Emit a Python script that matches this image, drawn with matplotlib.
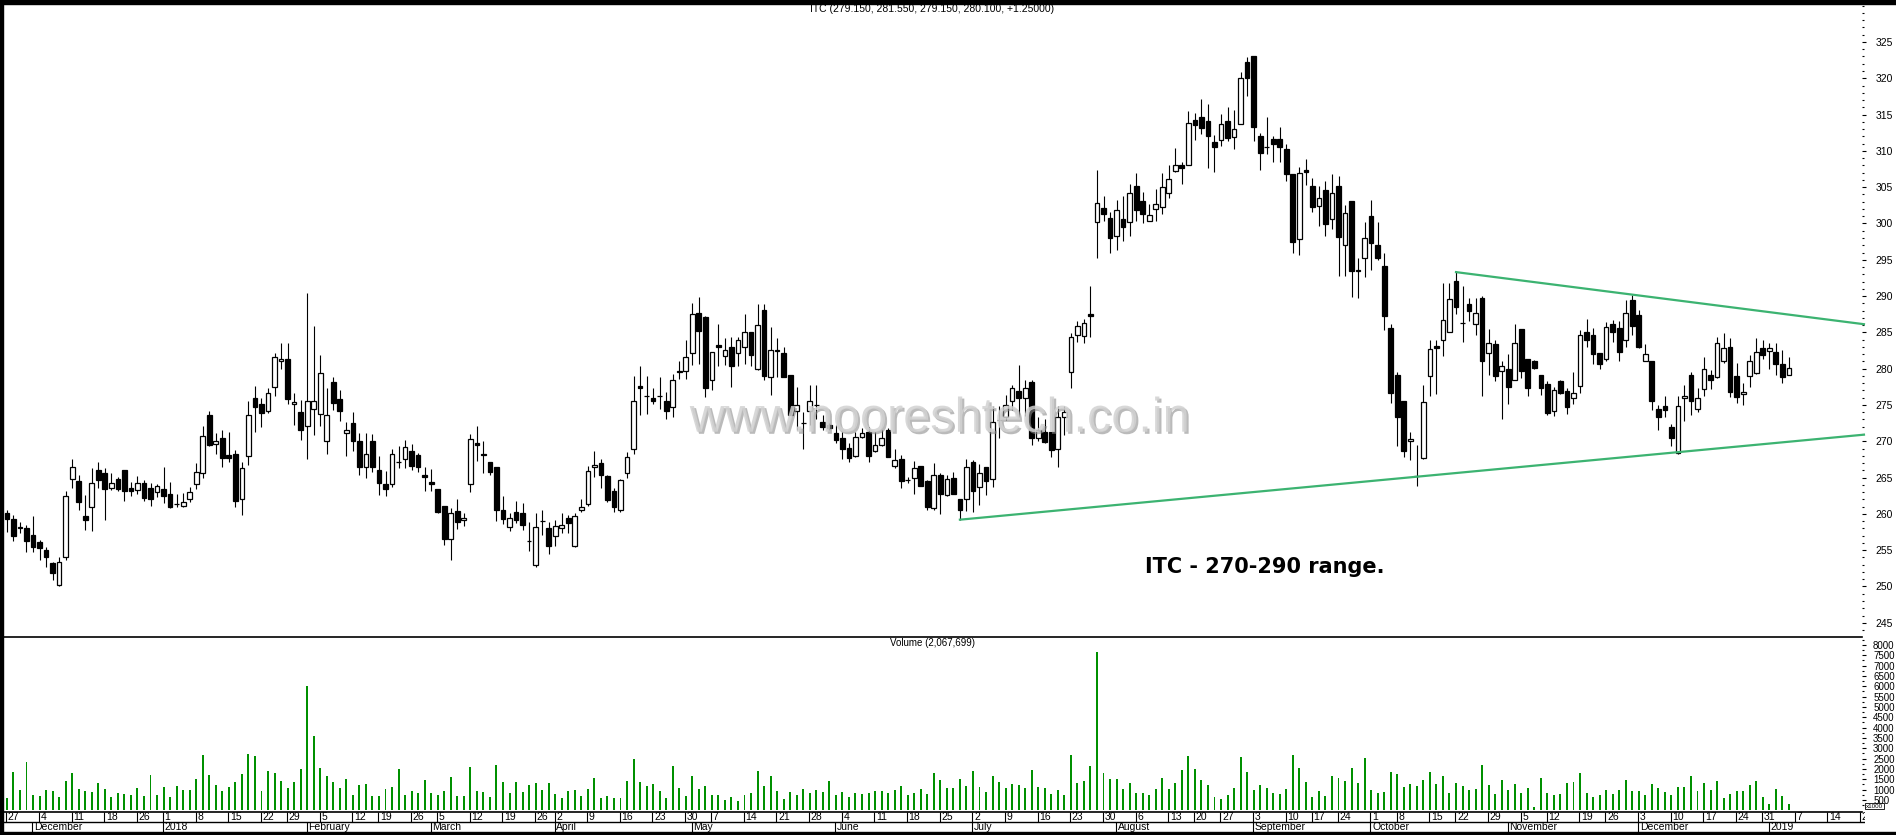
import numpy as np
import matplotlib
matplotlib.use("Agg")
import matplotlib.pyplot as plt
import matplotlib.patheffects as pe
from matplotlib.patches import Rectangle

plt.rcParams["font.family"] = ["Liberation Sans Narrow", "Liberation Sans", "DejaVu Sans"]

# NSE trading holidays in the window (Nov 2017 - Jan 2019)
HOLIDAYS = ["2017-12-25", "2018-01-26", "2018-02-13", "2018-03-02", "2018-03-29",
            "2018-03-30", "2018-05-01", "2018-08-15", "2018-08-22", "2018-09-13",
            "2018-09-20", "2018-10-02", "2018-10-18", "2018-11-08", "2018-11-23",
            "2018-12-25"]
FIRST_DAY = "2017-11-27"
AXIS_END_DAY = "2019-01-26"

# daily ITC candles
OPEN = [260.1, 259.3, 258.2, 258.0, 257.1, 256.1, 255.0, 253.3, 250.2, 254.0,
        264.8, 264.5, 259.7, 261.0, 266.0, 265.6, 263.5, 264.8, 266.0, 263.5,
        263.3, 264.3, 263.5, 263.0, 263.4, 262.7, 261.4, 261.1, 262.0, 264.1,
        265.6, 273.6, 269.6, 270.5, 268.1, 268.3, 262.1, 268.0, 276.0, 275.1,
        274.2, 277.5, 281.1, 281.3, 275.1, 274.0, 272.1, 274.5, 273.7, 270.1,
        278.1, 275.8, 271.1, 272.5, 270.0, 266.5, 270.0, 266.0, 264.1, 264.1,
        267.2, 267.5, 268.6, 268.1, 265.4, 264.4, 263.4, 261.1, 256.6, 260.4,
        259.1, 264.1, 269.7, 268.3, 267.1, 266.4, 260.6, 258.2, 260.2, 260.1,
        256.3, 253.0, 259.0, 258.0, 256.9, 258.1, 259.5, 255.6, 260.6, 261.3,
        266.5, 267.0, 265.2, 263.1, 260.6, 265.6, 268.9, 277.6, 276.3, 276.0,
        276.2, 275.6, 274.7, 279.7, 279.7, 282.2, 287.6, 287.1, 278.4, 283.3,
        281.7, 283.0, 282.2, 283.0, 285.0, 280.0, 288.1, 278.8, 282.6, 282.1,
        279.1, 274.2, 272.5, 274.2, 275.0, 272.6, 272.2, 271.2, 270.5, 269.1,
        268.0, 270.6, 271.3, 268.6, 269.5, 271.6, 266.6, 267.6, 264.7, 265.0,
        266.6, 264.5, 260.8, 265.4, 262.6, 264.9, 262.0, 262.0, 267.1, 263.7,
        266.5, 264.8, 272.9, 273.4, 275.6, 276.9, 275.9, 278.2, 270.4, 271.3,
        271.3, 269.0, 273.4, 279.6, 284.6, 284.5, 287.5, 300.2, 302.1, 300.8,
        298.3, 300.6, 300.2, 305.2, 303.1, 300.4, 302.0, 302.2, 304.2, 307.2,
        308.1, 308.1, 314.3, 314.6, 314.1, 311.2, 311.5, 314.1, 311.9, 313.7,
        322.2, 323.1, 312.1, 310.5, 311.6, 311.7, 310.3, 306.8, 297.9, 307.3,
        305.2, 302.4, 304.6, 300.6, 305.2, 297.1, 303.1, 293.6, 295.2, 301.0,
        297.1, 294.1, 285.6, 279.1, 275.5, 270.0, 265.2, 267.7, 279.0, 283.1,
        284.0, 285.1, 292.1, 286.3, 288.9, 286.1, 289.8, 282.1, 283.4, 279.7,
        280.0, 278.4, 285.4, 281.3, 281.0, 279.1, 277.9, 274.2, 278.3, 276.9,
        276.0, 277.6, 285.1, 284.6, 282.1, 281.4, 286.2, 285.6, 283.9, 289.5,
        287.4, 281.1, 281.0, 274.5, 274.9, 272.0, 268.4, 276.0, 279.1, 274.5,
        277.2, 279.1, 278.9, 281.1, 283.0, 279.0, 276.5, 279.0, 279.4, 282.9,
        282.5, 282.3, 280.7, 279.15]
HIGH = [260.6, 259.8, 258.9, 258.4, 259.7, 256.4, 255.4, 253.4, 254.1, 263.2,
        267.6, 265.4, 262.6, 266.3, 267.1, 266.3, 265.6, 265.1, 266.0, 264.4,
        265.2, 264.7, 264.2, 264.1, 266.4, 264.4, 262.8, 262.9, 263.7, 267.0,
        272.1, 274.2, 271.1, 271.5, 271.3, 268.8, 267.1, 275.5, 277.6, 275.9,
        277.3, 282.1, 283.5, 283.5, 276.6, 275.7, 290.4, 285.9, 281.9, 277.4,
        278.8, 277.1, 272.7, 274.0, 271.1, 271.1, 271.0, 268.0, 265.9, 269.0,
        269.3, 270.2, 269.6, 268.4, 266.5, 266.2, 263.4, 261.1, 260.8, 262.0,
        260.1, 271.0, 272.1, 270.0, 267.1, 266.4, 262.4, 260.1, 261.8, 261.5,
        258.9, 260.1, 260.6, 258.9, 259.2, 260.1, 259.8, 260.1, 262.0, 266.6,
        268.7, 267.6, 265.4, 263.6, 264.8, 268.5, 279.0, 280.3, 279.0, 277.3,
        278.9, 276.8, 279.3, 281.1, 283.9, 289.0, 289.9, 287.3, 282.3, 286.2,
        284.2, 284.3, 284.4, 287.5, 285.0, 288.9, 288.9, 285.7, 284.2, 283.0,
        279.1, 277.5, 274.1, 277.7, 277.8, 273.6, 272.5, 272.2, 271.3, 269.7,
        271.3, 271.8, 272.0, 271.3, 271.6, 271.8, 269.0, 268.1, 265.1, 267.3,
        266.6, 264.7, 267.0, 265.6, 265.4, 265.8, 262.0, 267.6, 267.4, 266.9,
        266.5, 274.9, 274.9, 276.4, 277.8, 280.5, 278.4, 278.4, 273.4, 273.0,
        271.3, 274.8, 274.9, 284.9, 286.5, 286.8, 291.4, 307.4, 303.8, 301.6,
        303.2, 303.8, 305.5, 307.0, 304.3, 302.7, 304.7, 307.0, 308.0, 310.4,
        308.5, 315.5, 315.2, 317.2, 316.5, 312.2, 315.1, 316.0, 315.6, 320.8,
        322.9, 323.1, 312.4, 314.6, 312.1, 313.3, 310.9, 306.8, 307.8, 308.9,
        306.2, 305.2, 305.9, 306.8, 306.5, 302.6, 303.1, 295.2, 300.2, 303.2,
        300.2, 295.9, 286.2, 279.5, 275.5, 271.3, 269.5, 277.8, 283.9, 283.9,
        291.8, 291.8, 293.4, 291.4, 289.8, 289.7, 290.0, 285.4, 283.9, 281.0,
        282.0, 286.2, 285.4, 281.3, 281.2, 279.1, 278.3, 277.5, 278.5, 277.3,
        279.6, 285.3, 286.8, 285.6, 282.1, 286.4, 286.7, 286.5, 289.5, 290.2,
        288.1, 283.4, 281.0, 275.0, 276.3, 272.4, 276.2, 277.8, 279.6, 277.3,
        281.6, 279.8, 284.3, 284.9, 284.2, 280.8, 278.0, 281.9, 284.2, 283.9,
        283.5, 283.5, 282.6, 281.55]
LOW = [257.5, 256.2, 257.3, 254.8, 254.8, 253.7, 252.7, 250.9, 250.1, 253.7,
       263.5, 260.5, 257.8, 257.7, 263.5, 259.2, 263.3, 263.1, 261.8, 262.4,
       262.7, 261.8, 261.1, 262.3, 261.5, 260.8, 260.9, 260.9, 261.7, 263.4,
       265.0, 269.3, 268.3, 266.4, 267.2, 261.0, 259.8, 266.8, 271.3, 271.9,
       273.9, 276.3, 280.0, 275.2, 272.2, 270.2, 267.6, 270.9, 272.1, 268.2,
       274.3, 272.8, 268.0, 268.6, 265.3, 265.0, 265.8, 262.6, 262.4, 263.7,
       266.3, 266.3, 266.0, 265.7, 263.2, 263.1, 260.1, 255.7, 253.6, 257.9,
       258.3, 263.0, 267.3, 265.6, 265.4, 259.0, 258.6, 257.7, 258.7, 257.8,
       254.9, 252.7, 257.1, 254.5, 255.6, 257.3, 257.3, 255.5, 260.3, 261.1,
       265.1, 263.5, 261.7, 260.2, 260.2, 264.9, 268.2, 273.6, 273.8, 275.1,
       274.5, 273.0, 273.3, 278.6, 278.6, 280.5, 280.7, 276.1, 277.1, 280.3,
       280.5, 277.5, 280.3, 280.7, 280.3, 279.8, 278.4, 276.4, 278.9, 278.9,
       273.6, 271.6, 269.0, 272.2, 273.0, 271.5, 271.5, 269.7, 267.6, 267.1,
       267.9, 270.4, 267.1, 268.5, 269.3, 267.9, 266.3, 263.5, 264.2, 262.8,
       263.9, 260.5, 260.5, 260.0, 262.5, 262.7, 259.2, 260.4, 260.3, 261.2,
       262.6, 263.7, 270.4, 272.9, 274.3, 273.4, 273.5, 269.5, 270.0, 269.7,
       267.9, 266.4, 270.9, 277.4, 283.7, 283.5, 284.4, 295.3, 300.3, 295.9,
       296.4, 297.6, 298.3, 300.3, 300.0, 300.3, 300.3, 301.3, 303.5, 307.1,
       305.4, 308.1, 311.5, 312.3, 307.6, 307.1, 310.7, 311.3, 310.3, 313.7,
       317.5, 311.3, 307.3, 309.5, 308.4, 308.4, 305.8, 295.9, 295.7, 305.3,
       301.6, 299.6, 298.3, 299.3, 292.7, 292.7, 289.9, 289.8, 292.6, 293.6,
       295.0, 285.3, 275.3, 269.4, 267.9, 267.4, 263.9, 267.5, 276.2, 276.5,
       281.7, 285.0, 287.5, 283.7, 286.5, 284.7, 276.3, 279.1, 278.3, 273.0,
       275.1, 278.4, 278.7, 276.3, 280.0, 276.4, 273.6, 273.5, 276.5, 273.7,
       275.2, 276.7, 283.0, 280.6, 279.9, 281.1, 283.7, 281.1, 283.0, 284.6,
       282.8, 281.0, 274.3, 271.6, 273.3, 269.4, 268.3, 272.8, 273.6, 274.1,
       276.2, 277.2, 278.7, 280.8, 276.1, 275.3, 275.0, 277.5, 279.3, 281.4,
       280.0, 279.1, 278.0, 279.15]
CLOSE = [259.3, 257.0, 258.1, 256.2, 255.4, 255.3, 254.0, 251.8, 253.4, 262.4,
         266.4, 261.7, 259.1, 264.3, 264.7, 263.4, 264.3, 263.4, 263.2, 263.2,
         264.3, 262.2, 262.0, 263.9, 262.4, 260.9, 261.4, 261.6, 263.0, 265.7,
         270.7, 269.5, 270.0, 267.7, 267.7, 261.8, 266.3, 273.6, 274.7, 273.9,
         276.7, 281.6, 281.4, 275.8, 275.4, 271.5, 275.5, 275.5, 279.4, 273.6,
         275.3, 274.2, 271.6, 270.0, 266.5, 268.3, 266.5, 264.2, 263.4, 268.3,
         267.2, 269.2, 266.6, 266.5, 265.1, 264.1, 260.3, 256.6, 260.1, 258.9,
         259.4, 270.3, 269.5, 268.1, 265.7, 260.5, 259.3, 259.4, 259.2, 258.4,
         256.3, 258.2, 259.0, 255.6, 258.3, 258.5, 258.7, 259.7, 261.0, 265.9,
         266.8, 265.3, 261.9, 260.9, 264.6, 267.8, 275.5, 277.4, 276.3, 275.6,
         276.2, 274.2, 278.4, 279.5, 281.6, 287.5, 285.2, 277.3, 282.3, 283.0,
         282.6, 280.3, 283.9, 285.0, 281.9, 286.0, 279.0, 282.6, 282.5, 278.9,
         273.6, 275.0, 272.5, 275.5, 275.0, 271.9, 271.8, 270.2, 269.0, 267.7,
         270.6, 271.2, 268.0, 269.5, 270.5, 267.9, 267.4, 264.5, 264.7, 266.3,
         263.9, 261.0, 265.4, 262.7, 264.8, 262.8, 260.6, 266.4, 263.2, 265.6,
         264.5, 272.7, 272.9, 275.0, 277.3, 275.9, 277.4, 270.5, 271.5, 269.9,
         268.8, 273.4, 274.1, 284.3, 285.9, 286.3, 287.3, 302.8, 301.3, 298.0,
         301.8, 299.5, 304.2, 301.9, 301.3, 301.2, 302.7, 305.0, 306.1, 308.1,
         307.6, 313.9, 313.5, 313.1, 312.1, 310.6, 313.7, 311.8, 313.0, 320.1,
         320.1, 313.3, 309.7, 310.5, 311.0, 310.6, 306.8, 297.4, 307.0, 307.1,
         302.2, 303.5, 299.9, 304.2, 298.1, 301.4, 293.4, 293.5, 298.0, 297.3,
         295.3, 287.3, 276.7, 273.4, 268.7, 270.3, 265.2, 275.4, 282.7, 282.8,
         286.7, 289.6, 288.5, 286.3, 287.9, 287.6, 281.0, 283.6, 279.0, 280.3,
         277.5, 283.5, 279.7, 277.4, 280.1, 277.4, 273.9, 277.1, 276.6, 274.7,
         276.7, 284.6, 284.0, 282.0, 280.7, 285.8, 285.0, 282.3, 287.6, 285.9,
         283.0, 282.0, 275.5, 273.3, 274.3, 270.5, 274.8, 276.2, 275.5, 275.9,
         280.0, 278.4, 283.6, 282.8, 276.8, 276.1, 276.8, 281.0, 282.3, 281.9,
         282.9, 280.7, 278.9, 280.1]
# volume, in the chart's x1000 units
VOLUME = [574, 1838, 969, 2311, 732, 700, 969, 921, 637, 1411,
          1790, 1032, 921, 890, 1316, 1032, 637, 811, 779, 732,
          1063, 684, 1695, 732, 1111, 621, 1174, 1000, 969, 1506,
          2690, 1727, 1206, 921, 1127, 1364, 1743, 2738, 2643, 937,
          1885, 1822, 1395, 1063, 1364, 1980, 6022, 3603, 2059, 1680,
          1364, 1079, 1490, 732, 1221, 1269, 684, 684, 1032, 1127,
          1980, 716, 937, 826, 1443, 858, 747, 937, 1616, 700,
          700, 2075, 937, 874, 637, 2185, 1364, 842, 1364, 890,
          1206, 1316, 969, 1316, 779, 605, 937, 969, 684, 1016,
          1537, 605, 684, 574, 605, 1411, 2470, 1348, 1159, 1269,
          937, 574, 2122, 1063, 700, 1680, 1032, 1174, 747, 716,
          495, 653, 463, 732, 842, 1885, 1159, 1632, 937, 558,
          874, 732, 1016, 811, 985, 874, 1411, 747, 890, 653,
          842, 779, 811, 921, 937, 858, 1000, 1159, 716, 811,
          1048, 779, 1790, 1474, 1095, 1063, 1521, 1174, 1885, 1127,
          890, 1632, 1364, 1079, 1253, 1221, 1079, 1964, 1111, 1079,
          795, 969, 732, 2690, 1316, 1395, 2154, 7647, 1790, 1521,
          1521, 1048, 1316, 842, 811, 732, 1032, 1569, 1048, 1316,
          1948, 2627, 2012, 1443, 1206, 637, 558, 732, 1095, 2580,
          1853, 969, 1206, 1095, 842, 779, 1048, 2675, 2027, 1364,
          653, 921, 684, 1680, 1553, 1395, 2059, 1316, 2549, 1000,
          858, 890, 1838, 1759, 1127, 1253, 1174, 1474, 1869, 1269,
          1632, 858, 1316, 1159, 969, 1048, 2201, 1221, 779, 1443,
          1000, 1253, 811, 1079, 161, 1569, 811, 732, 764, 1316,
          1364, 1790, 842, 621, 732, 969, 779, 969, 1443, 937,
          937, 732, 1253, 1063, 874, 732, 1127, 1127, 1680, 937,
          1316, 969, 1395, 574, 779, 937, 937, 1237, 1395, 653,
          305, 1048, 684, 305]

# trendline anchors: (candle index, price)
UPPER_TL_IDX = [222, 249]
UPPER_TL_PRICE = [293.3, 290.2]
LOWER_TL_IDX = [146, 256]
LOWER_TL_PRICE = [259.2, 268.5]

TITLE = "ITC (279.150, 281.550, 279.150, 280.100, +1.25000)"
VOL_TITLE = "Volume (2,067,699)"
NOTE = "ITC - 270-290 range."
WATERMARK = "www.nooreshtech.co.in"
MONTHS = ["January", "February", "March", "April", "May", "June", "July",
          "August", "September", "October", "November", "December"]

# ---- trading calendar
all_days = np.arange(FIRST_DAY, AXIS_END_DAY, dtype="datetime64[D]")
days = all_days[np.is_busday(all_days, holidays=HOLIDAYS)]
day_num = days.astype(int)
week_key = day_num - (day_num + 3) % 7
week_start = np.r_[True, week_key[1:] != week_key[:-1]]
month_key = days.astype("datetime64[M]")
month_start = np.r_[True, month_key[1:] != month_key[:-1]]
month_start[0] = False  # Nov 2017 not labelled

o, h, l, c = (np.array(v) for v in (OPEN, HIGH, LOW, CLOSE))
idx = np.arange(len(c))
up = c >= o

W, H = 1896, 835
PX_PER_DAY = 6.528


def box(left, top, right, bottom):
    return [left / W, 1 - bottom / H, (right - left) / W, (bottom - top) / H]


fig = plt.figure(figsize=(W / 100, H / 100), dpi=100)
ax = fig.add_axes(box(3, 4, 1862, 637))
axv = fig.add_axes(box(3, 638, 1862, 812), sharex=ax)
axd = fig.add_axes(box(3, 812, 1865, 832))
XLIM = (-0.6, 284.2)

# black frame bits
for rect in [(0, 1 - 4 / H, 1, 4 / H), (0, 0, 3 / W, 1), (0, 0, 1, 3 / H)]:
    fig.patches.append(Rectangle(rect[:2], rect[2], rect[3], transform=fig.transFigure,
                                 color="black", zorder=10))

# ---- price panel
ax.vlines(idx, l, h, color="black", lw=0.8, zorder=2)
lo = np.minimum(o, c)
hgt = np.abs(c - o)
ax.bar(idx[up], hgt[up], bottom=lo[up], width=0.72, facecolor="white",
       edgecolor="black", lw=0.9, zorder=3)
ax.bar(idx[~up], hgt[~up], bottom=lo[~up], width=0.72, facecolor="black",
       edgecolor="black", lw=0.9, zorder=3)

for xs, ps in [(UPPER_TL_IDX, UPPER_TL_PRICE), (LOWER_TL_IDX, LOWER_TL_PRICE)]:
    slope = (ps[1] - ps[0]) / (xs[1] - xs[0])
    x_end = XLIM[1] + 0.3
    ax.plot([xs[0], x_end], [ps[0], ps[0] + slope * (x_end - xs[0])],
            color="#3cb371", lw=1.6, zorder=4, clip_on=False)

ax.set_xlim(*XLIM)
ax.set_ylim(243.04, 330.23)
ax.yaxis.tick_right()
ax.set_yticks(np.arange(245, 326, 5))
ax.set_yticks(np.arange(244, 331, 1), minor=True)
ax.tick_params(axis="y", which="major", length=3, width=0.8, pad=7, labelsize=7.5)
ax.tick_params(axis="y", which="minor", length=1.2, width=0.8)
ax.tick_params(axis="x", which="both", bottom=False, labelbottom=False)
for side in ["top", "left", "right"]:
    ax.spines[side].set_visible(False)
ax.spines["bottom"].set_linewidth(1.2)

ax.text(0.5, 0.9926, TITLE, transform=ax.transAxes, ha="center", va="center",
        fontsize=7.5)
ax.text(0.6143, 0.1106, NOTE, transform=ax.transAxes, ha="left", va="center",
        fontsize=15, fontweight="bold", family="DejaVu Sans")
ax.text(0.504, 0.3243, WATERMARK, transform=ax.transAxes, ha="center", va="baseline",
        fontsize=35, family="Liberation Sans", color="#d2d2d2", alpha=0.85, zorder=6,
        path_effects=[pe.SimplePatchShadow(offset=(1.5, -1.5), shadow_rgbFace="#8c8c8c",
                                           alpha=0.6), pe.Normal()])

# ---- volume panel
axv.bar(idx, VOLUME, width=0.3, color="#009000", zorder=2)
axv.set_ylim(-85, 8330)
axv.yaxis.tick_right()
axv.set_yticks(np.arange(500, 8001, 500))
axv.set_yticks(np.arange(250, 8251, 250), minor=True)
axv.tick_params(axis="y", which="major", length=3, width=0.8, pad=5, labelsize=7)
axv.tick_params(axis="y", which="minor", length=1.2, width=0.8)
axv.tick_params(axis="x", which="both", bottom=False, labelbottom=False)
for side in ["top", "left", "right"]:
    axv.spines[side].set_visible(False)
axv.spines["bottom"].set_linewidth(1.2)
axv.text(0.5, 0.971, VOL_TITLE, transform=axv.transAxes, ha="center", va="center",
         fontsize=7)
fig.text(1866 / W, 1 - 806 / H, "x1000", fontsize=4.5, ha="left", va="center",
         bbox=dict(boxstyle="square,pad=0.15", facecolor="white", edgecolor="black", lw=0.6))

# ---- date rows (same day scale, a few px wider on the right)
axd.set_xlim(XLIM[0], XLIM[1] + 3 / PX_PER_DAY)
axd.set_ylim(0, 2)
axd.axis("off")
axd.axhline(1, color="black", lw=1)
for i in np.where(week_start)[0]:
    if i > XLIM[1] + 0.5:
        break
    axd.vlines(i - 0.1, 1, 2, color="black", lw=0.8)
    axd.text(i + 0.15, 1.5, str(days[i].astype(object).day), fontsize=7.5,
             ha="left", va="center", clip_on=True)
for i in np.where(month_start)[0]:
    if i > XLIM[1]:
        break
    d = days[i].astype(object)
    label = str(d.year) if d.month == 1 else MONTHS[d.month - 1]
    axd.vlines(i - 0.1, 0, 1, color="black", lw=0.8)
    axd.text(i + 0.15, 0.45, label, fontsize=7.5, ha="left", va="center", clip_on=True)

fig.savefig("out.png", dpi=100)
